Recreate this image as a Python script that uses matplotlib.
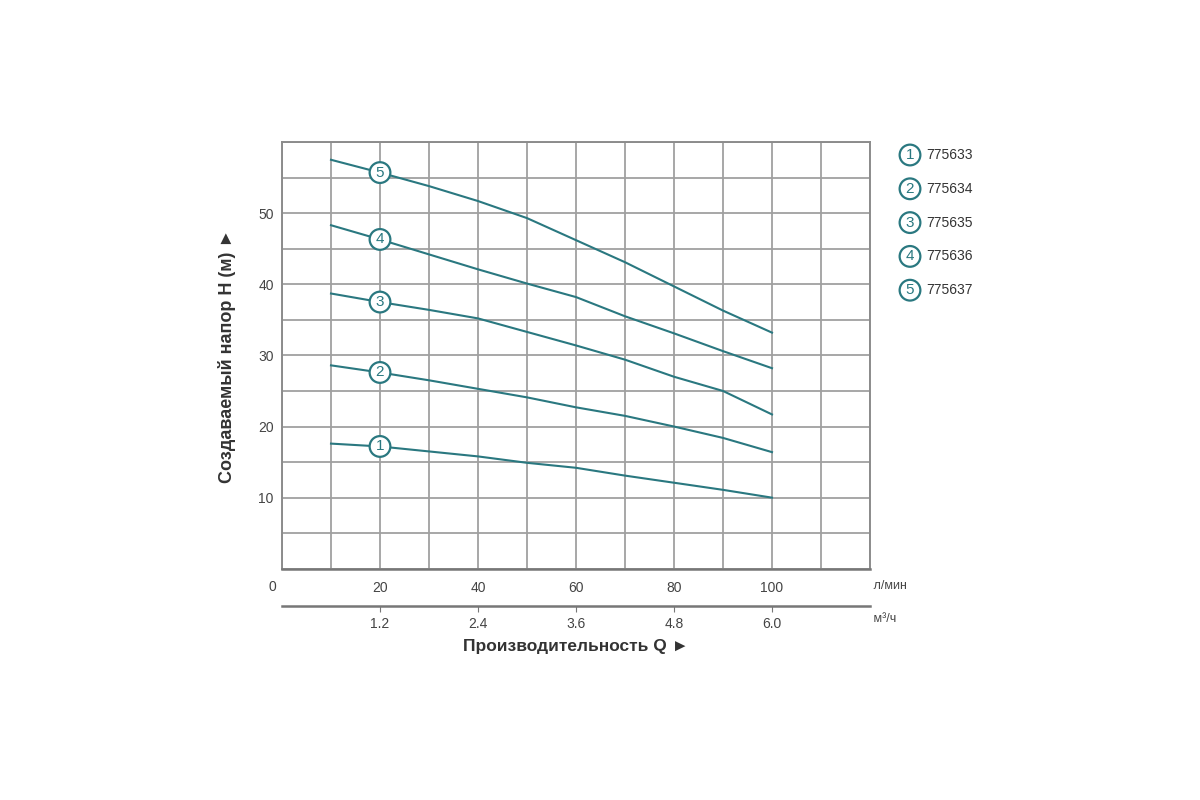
import numpy as np
import matplotlib.pyplot as plt

plt.rcParams.update({
    'font.family': ['Liberation Sans', 'DejaVu Sans'],
    'font.size': 10,
})

# flow in l/min and head in m
flow = [10, 20, 30, 40, 50, 60, 70, 80, 90, 100]
head_1 = [17.6, 17.2, 16.5, 15.8, 14.9, 14.2, 13.1, 12.1, 11.1, 10.0]
head_2 = [28.6, 27.6, 26.5, 25.3, 24.1, 22.7, 21.5, 20.0, 18.4, 16.4]
head_3 = [38.7, 37.5, 36.4, 35.2, 33.3, 31.4, 29.4, 27.0, 25.0, 21.7]
head_4 = [48.3, 46.3, 44.2, 42.1, 40.1, 38.2, 35.5, 33.1, 30.6, 28.2]
head_5 = [57.5, 55.7, 53.8, 51.7, 49.3, 46.2, 43.1, 39.7, 36.3, 33.2]
curves = [head_1, head_2, head_3, head_4, head_5]
curve_ids = ['1', '2', '3', '4', '5']
models = ['775633', '775634', '775635', '775636', '775637']
label_flow = 20

x_ticks = list(range(0, 121, 10))
x_ticklabels = ['', '', '20', '', '40', '', '60', '', '80', '', '100', '', '']
y_ticks = list(range(0, 61, 5))
y_ticklabels = ['', '', '10', '', '20', '', '30', '', '40', '', '50', '', '']
m3h_ticks = [1.2, 2.4, 3.6, 4.8, 6.0]

teal = '#2a7880'
grid_c = '#a0a0a0'
txt_c = '#444444'

fig = plt.figure(figsize=(12, 8), dpi=100)
ax = fig.add_axes([0.235, 0.289, 0.49, 0.5335])

for h in curves:
    ax.plot(flow, h, color=teal, lw=1.5, zorder=3)
for h, cid in zip(curves, curve_ids):
    yv = h[flow.index(label_flow)]
    ax.text(label_flow, yv, cid, ha='center', va='center', fontsize=11,
            color=teal, zorder=5,
            bbox=dict(boxstyle='circle,pad=0.22', fc='white', ec=teal, lw=1.6))

ax.set_xlim(0, 120)
ax.set_ylim(0, 60)
ax.set_xticks(x_ticks)
ax.set_xticklabels(x_ticklabels)
ax.set_yticks(y_ticks)
ax.set_yticklabels(y_ticklabels)
ax.tick_params(length=0, labelcolor=txt_c, labelsize=10)
ax.tick_params(axis='x', pad=9)
ax.tick_params(axis='y', pad=6)
ax.grid(True, color=grid_c, lw=1.3)
ax.set_axisbelow(True)
for s in ax.spines.values():
    s.set_color('#8c8c8c')
    s.set_linewidth(1.4)
ax.spines['bottom'].set_color('#777777')
ax.spines['bottom'].set_linewidth(1.8)

ax.annotate('0', xy=(0, 0), xycoords=('data', 'axes fraction'),
            xytext=(-10, -18), textcoords='offset pixels',
            ha='center', va='center', color=txt_c, fontsize=10)
ax.text(1.0, -0.04, ' л/мин', transform=ax.transAxes, ha='left', va='center',
        fontsize=9, color=txt_c)

sec = ax.secondary_xaxis(-0.088, functions=(lambda q: q * 0.06, lambda q: q / 0.06))
sec.set_xticks(m3h_ticks)
sec.set_xticklabels([f'{t:.1f}' for t in m3h_ticks])
sec.tick_params(length=4, color='#777777', labelcolor=txt_c, labelsize=10, pad=4)
sec.spines['bottom'].set_color('#777777')
sec.spines['bottom'].set_linewidth(1.8)
ax.text(1.0, -0.118, ' м³/ч', transform=ax.transAxes, ha='left', va='center',
        fontsize=9, color=txt_c)

ax.text(0.5, -0.183, 'Производительность Q ►', transform=ax.transAxes,
        ha='center', va='center', fontsize=12.5, fontweight='bold', color='#333333')
ax.set_ylabel('Создаваемый напор H (м) ►', fontsize=13, fontweight='bold', color='#333333')
ax.yaxis.set_label_coords(-0.078, 0.5)

# legend on the right
for i, (cid, m) in enumerate(zip(curve_ids, models)):
    yf = 1 - (155 + i * 33.8) / 800
    fig.text(910 / 1200, yf, cid, ha='center', va='center', fontsize=11, color=teal,
             bbox=dict(boxstyle='circle,pad=0.22', fc='white', ec=teal, lw=1.6))
    fig.text(926 / 1200, yf, m, ha='left', va='center', fontsize=10, color='#333333')

fig.savefig('out.png', dpi=100)
